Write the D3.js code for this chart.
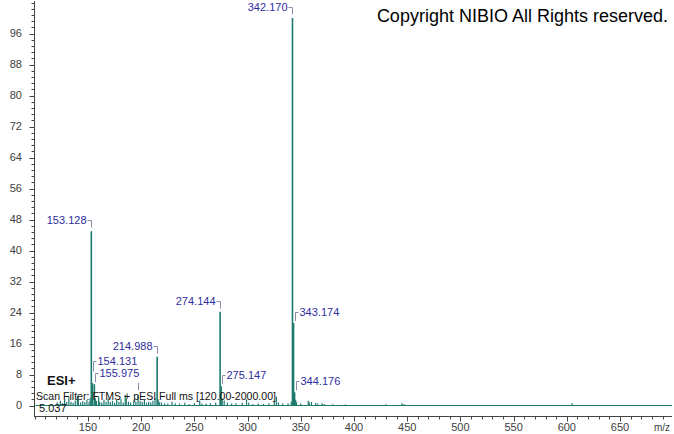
<!DOCTYPE html>
<html><head><meta charset="utf-8">
<script src="https://cdn.jsdelivr.net/npm/d3@7"></script>
<style>html,body{margin:0;padding:0;background:#fff}svg{display:block;font-family:"Liberation Sans",Arial,sans-serif}</style>
</head><body>
<script>
// Labeled peaks: m/z, relative intensity, label side
const peakMz    = [153.128, 154.131, 155.975, 214.988, 274.144, 275.147, 342.170, 343.174, 344.176];
const peakInt   = [45.0, 5.8, 5.5, 12.6, 24.2, 5.0, 100, 21.3, 3.4];
const peakSide  = ["left","right","right","left","left","right","left","right","right"];
// Unlabeled small peaks
const noiseMz  = [121,124,126,128,130,132,134,136,138,140,141,143,145,147,149,151,152.1,156.9,158,160,161,163,165,167,169,171,173,175,177,179,181,183,185,186,188,190,193,195,197,199,201,203,205,207,209,211,213,216,217,219,222,225,229,232,236,241,245,250,255,257,261,265,270,276.1,278,281,285,289,295,299,301,305,310,315,320,325,327,329,333,338,341,345.2,346,350,357,358,360,364,366,370,372,380,392,430,445,447,605];
const noiseInt = [0.8,1.2,0.6,1.5,0.9,2.1,1.0,0.7,1.3,2.4,1.6,0.8,1.1,0.9,1.4,1.0,2.0,1.8,1.2,2.2,1.0,0.8,1.5,1.0,1.8,0.9,1.2,0.7,1.4,1.0,1.6,0.8,2.8,1.8,1.0,0.8,1.3,1.0,2.6,1.2,0.9,1.4,0.7,1.0,0.8,1.2,1.9,1.6,0.9,0.8,0.6,0.5,1.0,0.6,0.5,0.7,0.4,0.6,1.3,0.5,0.5,0.6,0.8,1.8,1.3,0.8,0.5,0.6,0.7,1.6,0.7,0.4,0.5,0.4,0.6,1.2,2.3,0.8,0.5,0.6,1.0,1.5,0.8,0.5,1.2,0.8,0.9,0.7,0.5,0.6,0.4,0.3,0.3,0.3,0.6,0.4,0.6];
const yTicks = [0,8,16,24,32,40,48,56,64,72,80,88,96];
const xTicks = [150,200,250,300,350,400,450,500,550,600,650];
const copyright = "Copyright NIBIO All Rights reserved.";
const ionMode = "ESI+";
const scanFilter = "Scan Filter: FTMS + pESI Full ms [120.00-2000.00]";
const nlValue = "5.037";

const W = 674, H = 434;
const teal = "#1f7a6e", labelBlue = "#2e2e9e", bracket = "#8c8ca8", tickCol = "#404040";
const svg = d3.select("body").append("svg").attr("width", W).attr("height", H);
svg.append("rect").attr("width", W).attr("height", H).attr("fill", "#fff");

const x = d3.scaleLinear().domain([99.25, 698.85]).range([34, 672]);
const y = d3.scaleLinear().domain([0, 104.4]).range([405.5, 1]);
const axisY = 416;

// axes lines
svg.append("line").attr("x1", 34.5).attr("x2", 34.5).attr("y1", 1).attr("y2", axisY).attr("stroke", "#444");
svg.append("line").attr("x1", 34).attr("x2", 672).attr("y1", axisY + 0.5).attr("y2", axisY + 0.5).attr("stroke", "#444");

// y minor ticks
const yMinor = d3.range(0, 104.5, 1.6);
svg.append("g").selectAll("line").data(yMinor).join("line")
  .attr("x1", 31.5).attr("x2", 34.5)
  .attr("y1", d => Math.round(y(d)) + 0.5).attr("y2", d => Math.round(y(d)) + 0.5)
  .attr("stroke", "#444");
svg.append("g").selectAll("line").data(yTicks).join("line")
  .attr("x1", 29.5).attr("x2", 34.5)
  .attr("y1", d => Math.round(y(d)) + 0.5).attr("y2", d => Math.round(y(d)) + 0.5)
  .attr("stroke", "#444");
svg.append("g").selectAll("text").data(yTicks).join("text")
  .attr("x", 22).attr("y", d => y(d)).attr("dy", "0.35em")
  .attr("text-anchor", "end").attr("font-size", 11).attr("fill", tickCol).text(d => d);

// x ticks
const xMinor = d3.range(100, 699, 10);
svg.append("g").selectAll("line").data(xMinor).join("line")
  .attr("x1", d => Math.round(x(d)) + 0.5).attr("x2", d => Math.round(x(d)) + 0.5)
  .attr("y1", axisY).attr("y2", axisY + 3.5).attr("stroke", "#444");
svg.append("g").selectAll("line").data(xTicks).join("line")
  .attr("x1", d => Math.round(x(d)) + 0.5).attr("x2", d => Math.round(x(d)) + 0.5)
  .attr("y1", axisY).attr("y2", axisY + 5.5).attr("stroke", "#444");
svg.append("g").selectAll("text").data(xTicks).join("text")
  .attr("x", d => x(d)).attr("y", 431)
  .attr("text-anchor", "middle").attr("font-size", 11).attr("fill", tickCol).text(d => d);
svg.append("text").attr("x", 670).attr("y", 431).attr("text-anchor", "end")
  .attr("font-size", 10).attr("fill", tickCol).text("m/z");

// baseline
svg.append("line").attr("x1", x(100.5)).attr("x2", x(698.85))
  .attr("y1", y(0)).attr("y2", y(0)).attr("stroke", teal).attr("stroke-width", 1.2);

// noise peaks
const noise = noiseMz.map((m, i) => ({m, v: noiseInt[i]}));
svg.append("g").selectAll("line").data(noise).join("line")
  .attr("x1", d => x(d.m)).attr("x2", d => x(d.m))
  .attr("y1", y(0)).attr("y2", d => y(d.v))
  .attr("stroke", teal).attr("stroke-width", 1.2);

// labeled peaks
const peaks = peakMz.map((m, i) => ({m, v: peakInt[i], side: peakSide[i]}));
svg.append("g").selectAll("line").data(peaks).join("line")
  .attr("x1", d => x(d.m)).attr("x2", d => x(d.m))
  .attr("y1", y(0)).attr("y2", d => y(d.v))
  .attr("stroke", teal).attr("stroke-width", 1.6);

// label layout: right-side labels stacked to avoid overlap
peaks.forEach(p => { p.ly = y(p.v) - 11; });
const rights = peaks.filter(p => p.side === "right");
for (let i = rights.length - 2; i >= 0; i--) {
  const a = rights[i], b = rights[i + 1];
  if (x(b.m) - x(a.m) < 45 && Math.abs(a.ly - b.ly) < 12) a.ly = b.ly - 12;
}
const lg = svg.append("g");
peaks.forEach(p => {
  const px = Math.round(x(p.m)) + 0.5;
  const ly = Math.round(p.ly) + 0.5;
  if (p.side === "left") {
    lg.append("path").attr("d", `M${px - 4},${ly}H${px}V${ly + 7}`)
      .attr("fill", "none").attr("stroke", bracket);
    lg.append("text").attr("x", px - 5).attr("y", ly).attr("dy", "0.35em")
      .attr("text-anchor", "end").attr("font-size", 11).attr("fill", labelBlue).text(p.m.toFixed(3));
  } else {
    const bot = Math.min(y(p.v) - 2, ly + 10);
    lg.append("path").attr("d", `M${px + 4},${ly}H${px + 1}V${bot}`)
      .attr("fill", "none").attr("stroke", bracket);
    lg.append("text").attr("x", px + 5).attr("y", ly).attr("dy", "0.35em")
      .attr("text-anchor", "start").attr("font-size", 11).attr("fill", labelBlue).text(p.m.toFixed(3));
  }
});
// connector of an unlabeled peak
svg.append("line").attr("x1", Math.round(x(197)) + 0.5).attr("x2", Math.round(x(197)) + 0.5)
  .attr("y1", 383).attr("y2", 390).attr("stroke", bracket);

// annotations
svg.append("text").attr("x", 47).attr("y", 385).attr("font-size", 13).attr("font-weight", "bold")
  .attr("fill", "#111").text(ionMode);
svg.append("text").attr("x", 36).attr("y", 400).attr("font-size", 10.5).attr("fill", "#111")
  .attr("textLength", 240).attr("lengthAdjust", "spacingAndGlyphs").text(scanFilter);
svg.append("text").attr("x", 39).attr("y", 412).attr("font-size", 11).attr("fill", "#111").text(nlValue);
svg.append("text").attr("x", 668).attr("y", 22).attr("text-anchor", "end")
  .attr("font-size", 18).attr("fill", "#000").text(copyright);
</script>
</body></html>
